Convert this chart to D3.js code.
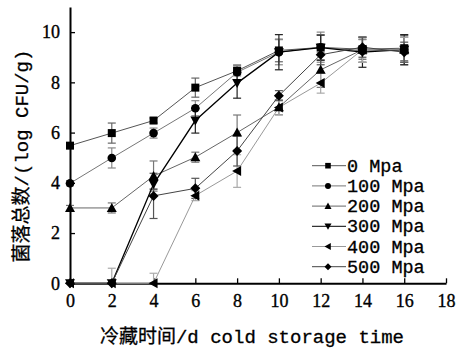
<!DOCTYPE html>
<html><head><meta charset="utf-8">
<script src="https://cdn.jsdelivr.net/npm/d3@7"></script>
<style>body{margin:0;background:#fff}svg{display:block}</style>
</head><body>
<svg id="c" width="462" height="351"></svg>
<script>
const days = [0,2,4,6,8,10,12,14,16];
const xTicks = [0,2,4,6,8,10,12,14,16,18];
const yTicks = [0,2,4,6,8,10];
const seriesNames = ["0 Mpa","100 Mpa","200 Mpa","300 Mpa","400 Mpa","500 Mpa"];
const s0   = [5.48,5.98,6.48,7.79,8.46,9.27,9.39,9.32,9.36];
const s100 = [3.98,4.99,5.98,6.97,8.40,9.20,9.40,9.25,9.30];
const s200 = [3.00,3.00,4.27,5.02,6.00,7.01,8.50,9.30,9.30];
const s300 = [0,0,3.95,6.48,7.97,9.20,9.38,9.20,9.30];
const s400 = [0,0,0,3.49,4.47,7.00,7.97,9.30,9.30];
const s500 = [0,0,3.48,3.78,5.27,7.47,9.10,9.40,9.20];
const e0   = [0.10,0.40,0.10,0.38,0.20,0.45,0.50,0.40,0.50];
const e100 = [0.10,0.40,0.20,0.30,0.30,0.50,0.60,0.45,0.60];
const e200 = [0.10,0.20,0.60,0.20,0.70,0.30,0.70,0.50,0.50];
const e300 = [0,0,0.20,0.50,0.60,0.70,0.50,0.60,0.60];
const e400 = [0,0.60,0.40,0.20,0.65,0.30,0.40,0.50,0.50];
const e500 = [0,0,0.90,0.40,0.60,0.20,0.40,0.40,0.40];

const values = [s0,s100,s200,s300,s400,s500];
const errors = [e0,e100,e200,e300,e400,e500];
const lineColors = ["#555","#777","#666","#000","#999","#444"];
const errColors = ["#666","#888","#777","#222","#aaa","#555"];
const symbols = ["square","circle","triangle","down","left","diamond"];

const svg = d3.select("#c");
const x = d3.scaleLinear().domain([0,18]).range([70,446]);
const y = d3.scaleLinear().domain([0,11]).range([283.3,7]);

// axes
const xAxis = svg.append("g").attr("transform",`translate(0,${y(0)})`)
  .call(d3.axisBottom(x).tickValues(xTicks).tickSize(-5).tickPadding(11).tickSizeOuter(0));
xAxis.select(".domain").attr("stroke-width",2);
xAxis.selectAll(".tick line").attr("stroke-width",1.3);
xAxis.selectAll(".tick text").attr("font-family","Liberation Serif").attr("font-size",18).attr("fill","#000")
  .attr("stroke","#000").attr("stroke-width",0.35);

const yAxis = svg.append("g").attr("transform",`translate(${x(0)},0)`)
  .call(d3.axisLeft(y).tickValues(yTicks).tickSize(-5).tickPadding(10).tickSizeOuter(0));
yAxis.select(".domain").attr("stroke-width",2);
yAxis.selectAll(".tick line").attr("stroke-width",1.3);
yAxis.selectAll(".tick text").attr("font-family","Liberation Serif").attr("font-size",18).attr("fill","#000")
  .attr("stroke","#000").attr("stroke-width",0.35);

function marker(g, type, cx, cy, s) {
  let p;
  switch(type){
    case "square": p = g.append("rect").attr("x",cx-4).attr("y",cy-4).attr("width",8).attr("height",8); break;
    case "circle": p = g.append("circle").attr("cx",cx).attr("cy",cy).attr("r",4.3); break;
    case "triangle": p = g.append("path").attr("d",`M${cx},${cy-5}L${cx+5},${cy+4}L${cx-5},${cy+4}Z`); break;
    case "down": p = g.append("path").attr("d",`M${cx},${cy+5}L${cx+5},${cy-4}L${cx-5},${cy-4}Z`); break;
    case "left": p = g.append("path").attr("d",`M${cx-5},${cy}L${cx+4},${cy-5}L${cx+4},${cy+5}Z`); break;
    case "diamond": p = g.append("path").attr("d",`M${cx},${cy-5}L${cx+5},${cy}L${cx},${cy+5}L${cx-5},${cy}Z`); break;
  }
  p.attr("fill","#000");
  if (s) { p.attr("transform",`translate(${cx},${cy}) scale(${s}) translate(${-cx},${-cy})`); }
}

const line = d3.line().x(d=>x(d[0])).y(d=>y(d[1]));

// error bars
values.forEach((vals,i)=>{
  const g = svg.append("g");
  days.forEach((d,j)=>{
    const e = errors[i][j]; if (!e) return;
    const lo = Math.max(0, vals[j]-e), hi = vals[j]+e;
    const cx = x(d);
    g.append("line").attr("x1",cx).attr("x2",cx).attr("y1",y(lo)).attr("y2",y(hi)).attr("stroke",errColors[i]).attr("stroke-width",1.2);
    g.append("line").attr("x1",cx-4).attr("x2",cx+4).attr("y1",y(hi)).attr("y2",y(hi)).attr("stroke",errColors[i]).attr("stroke-width",1.2);
    if (vals[j]-e > 0) g.append("line").attr("x1",cx-4).attr("x2",cx+4).attr("y1",y(lo)).attr("y2",y(lo)).attr("stroke",errColors[i]).attr("stroke-width",1.2);
  });
});

// lines
values.forEach((vals,i)=>{
  svg.append("path").datum(days.map((d,j)=>[d,vals[j]]))
    .attr("d",line).attr("fill","none").attr("stroke",lineColors[i]).attr("stroke-width", i===3?1.3:1);
});
// markers
values.forEach((vals,i)=>{
  const g = svg.append("g");
  days.forEach((d,j)=> marker(g, symbols[i], x(d), y(vals[j])));
});

// legend
const lg = svg.append("g");
seriesNames.forEach((n,i)=>{
  const cy = 165.7 + i*20.2;
  lg.append("line").attr("x1",312).attr("x2",346).attr("y1",cy).attr("y2",cy).attr("stroke",lineColors[i]).attr("stroke-width",1);
  marker(lg, symbols[i], 328, cy, 0.7);
  lg.append("text").attr("x",347).attr("y",cy+6).attr("font-family","Liberation Mono, monospace").attr("font-size",18.5).attr("fill","#000")
    .attr("stroke","#000").attr("stroke-width",0.3).text(n);
});

// axis titles
svg.append("text").attr("x",252).attr("y",343).attr("text-anchor","middle")
  .attr("font-family","Liberation Mono, 'Noto Sans CJK SC', monospace").attr("font-size",19).attr("fill","#000")
  .attr("stroke","#000").attr("stroke-width",0.3)
  .text("冷藏时间/d cold storage time");
svg.append("text").attr("transform","translate(28,156) rotate(-90)").attr("text-anchor","middle")
  .attr("font-family","Liberation Mono, 'Noto Sans CJK SC', monospace").attr("font-size",19).attr("fill","#000")
  .attr("stroke","#000").attr("stroke-width",0.3)
  .text("菌落总数/(log CFU/g)");
</script>
</body></html>
